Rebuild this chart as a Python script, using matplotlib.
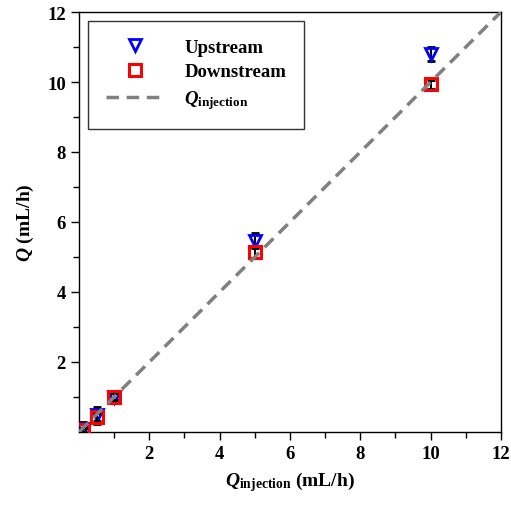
import numpy as np
import matplotlib.pyplot as plt
from matplotlib.lines import Line2D

#Data
q_inj = [0.1, 0.5, 1.0, 5.0, 10.0]
upstream = [0.08, 0.48, 1.0, 5.47, 10.8]
upstream_err = [0.2, 0.24, 0.1, 0.22, 0.2]
downstream = [0.05, 0.43, 1.0, 5.13, 9.93]
downstream_err = [0.05, 0.12, 0.1, 0.15, 0.12]
line_x = [0, 12]

plt.rcParams['font.family'] = 'Liberation Serif'
plt.rcParams['font.weight'] = 'bold'
plt.rcParams['mathtext.fontset'] = 'custom'
plt.rcParams['mathtext.rm'] = 'Liberation Serif:bold'
plt.rcParams['mathtext.it'] = 'Liberation Serif:italic:bold'
plt.rcParams['mathtext.bf'] = 'Liberation Serif:bold'

fig = plt.figure(figsize=(5.11, 5.06), dpi=100)
ax = fig.add_axes([0.1546, 0.1443, 0.8258, 0.830])

ax.errorbar(q_inj, upstream, yerr=upstream_err, fmt='v', mfc='none', mec='#0000ff',
            mew=2, ms=9, ecolor='black', elinewidth=1.5, capsize=3, capthick=1.5, zorder=3)
ax.errorbar(q_inj, downstream, yerr=downstream_err, fmt='s', mfc='none', mec='#ff0000',
            mew=2.2, ms=9, ecolor='black', elinewidth=1.5, capsize=3, capthick=1.5, zorder=4)
ax.plot(line_x, line_x, '--', color='#808080', lw=2.5, dashes=(3.6, 2.2), zorder=5)

ax.set_xlim(0, 12)
ax.set_ylim(0, 12)
ax.set_xticks([2, 4, 6, 8, 10, 12])
ax.set_yticks([2, 4, 6, 8, 10, 12])
ax.set_xticks([1, 3, 5, 7, 9, 11], minor=True)
ax.set_yticks([1, 3, 5, 7, 9, 11], minor=True)
ax.tick_params(which='major', direction='out', length=6, width=1, labelsize=13.5, top=False, right=False)
ax.tick_params(which='minor', direction='out', length=4, width=1, top=False, right=False)
for s in ax.spines.values():
    s.set_linewidth(1)

ax.set_xlabel(r'$\mathit{Q}_{\mathrm{injection}}$ (mL/h)', fontsize=14, weight='bold', labelpad=5)
ax.set_ylabel(r'$\mathit{Q}$ (mL/h)', fontsize=14, weight='bold', labelpad=8)

handles = [
    Line2D([], [], ls='none', marker='v', mfc='none', mec='#0000ff', mew=2, ms=9),
    Line2D([], [], ls='none', marker='s', mfc='none', mec='#ff0000', mew=2.2, ms=9),
    Line2D([], [], ls='--', color='#808080', lw=2.5, dashes=(3.6, 2.2)),
]
labels = ['Upstream', 'Downstream', r'$\mathit{Q}_{\mathrm{injection}}$']
leg = ax.legend(handles, labels, loc='upper left', bbox_to_anchor=(0.021, 0.979),
                fancybox=False, edgecolor='black', fontsize=13.5, handlelength=3.1,
                borderpad=0.95, labelspacing=0.4, handletextpad=1.1, borderaxespad=0)
leg.get_frame().set_linewidth(1)

plt.savefig('out.png', dpi=100)
